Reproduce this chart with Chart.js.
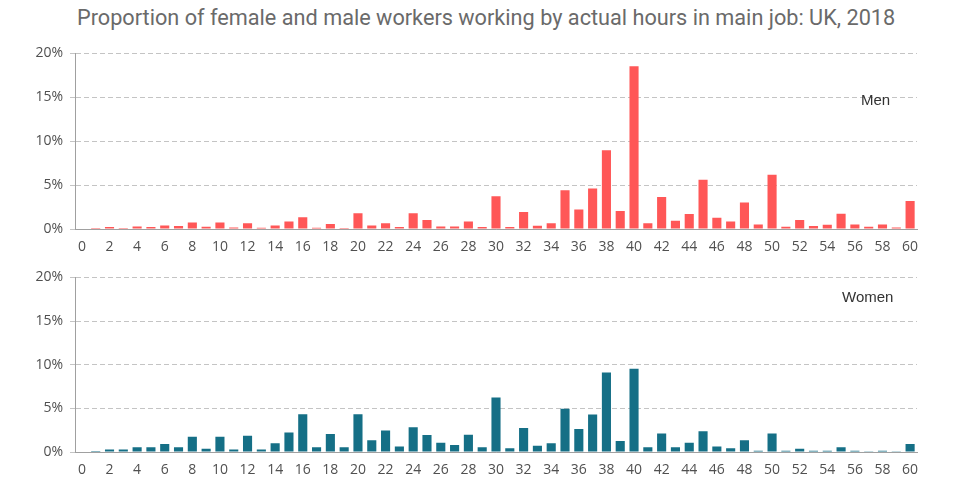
<!DOCTYPE html>
<html>
<head>
<meta charset="utf-8">
<script src="https://cdn.jsdelivr.net/npm/chart.js@4/dist/chart.umd.min.js"></script>
<style>
  html, body { margin: 0; padding: 0; background: #fff; }
  body { width: 959px; height: 484px; position: relative; overflow: hidden; font-family: "Open Sans", sans-serif; }
  #title { position: absolute; left: 77px; top: 5px; font-family: Roboto, sans-serif; font-size: 21.7px; color: #6a6a6a; white-space: nowrap; }
  canvas { position: absolute; left: 0; }
  #men { top: 38px; }
  #women { top: 262px; }
  .tag { position: absolute; font-family: "Liberation Sans", Arial, sans-serif; font-size: 15px; color: #333; }
  #tag-men { left: 861px; top: 91px; }
  #tag-women { left: 842px; top: 288px; }
</style>
</head>
<body>
<div id="title">Proportion of female and male workers working by actual hours in main job: UK, 2018</div>
<canvas id="men" width="959" height="222"></canvas>
<canvas id="women" width="959" height="222"></canvas>
<div class="tag" id="tag-men">Men</div>
<div class="tag" id="tag-women">Women</div>
<script>
"use strict";

const hours = ["0","1","2","3","4","5","6","7","8","9","10","11","12","13","14","15","16","17","18","19","20",
  "21","22","23","24","25","26","27","28","29","30","31","32","33","34","35","36","37","38","39","40",
  "41","42","43","44","45","46","47","48","49","50","51","52","53","54","55","56","57","58","59","60"];

// % of workers at each actual-hours value
const men = [0.05, 0.1, 0.22, 0.11, 0.29, 0.22, 0.4, 0.33, 0.73, 0.26, 0.73, 0.18, 0.66, 0.15, 0.4, 0.84, 1.35, 0.15, 0.58, 0.12, 1.79,
  0.4, 0.66, 0.22, 1.79, 1.02, 0.29, 0.29, 0.84, 0.22, 3.72, 0.22, 1.93, 0.36, 0.66, 4.42, 2.23, 4.6, 8.98, 2.04, 18.54,
  0.66, 3.65, 0.95, 1.72, 5.62, 1.28, 0.84, 3.03, 0.51, 6.17, 0.26, 1.02, 0.33, 0.47, 1.75, 0.51, 0.26, 0.51, 0.18, 3.18];

const women = [0, 0.11, 0.29, 0.29, 0.55, 0.55, 0.92, 0.55, 1.76, 0.37, 1.76, 0.29, 1.87, 0.29, 0.99, 2.24, 4.33, 0.55, 2.07, 0.55, 4.31,
  1.36, 2.46, 0.62, 2.83, 1.94, 1.06, 0.81, 1.98, 0.55, 6.24, 0.44, 2.75, 0.73, 0.99, 4.95, 2.64, 4.29, 9.1, 1.25, 9.54,
  0.55, 2.13, 0.55, 1.06, 2.39, 0.62, 0.44, 1.36, 0.15, 2.13, 0.15, 0.37, 0.15, 0.15, 0.55, 0.15, 0.04, 0.15, 0.04, 0.92];

const yTicks = [0, 5, 10, 15, 20];

const TXT = "#505050";
const tickFont = { family: "'Open Sans', sans-serif", size: 14 };

function makeChart(id, values, color, xAxisH) {
  return new Chart(document.getElementById(id), {
    type: "bar",
    data: {
      labels: hours,
      datasets: [{ data: values, backgroundColor: color, barPercentage: 0.66, categoryPercentage: 1 }]
    },
    options: {
      responsive: false,
      animation: false,
      layout: { padding: { top: 9, right: 42, left: 0, bottom: 0 } },
      plugins: { legend: { display: false }, tooltip: { enabled: false } },
      scales: {
        x: {
          grid: { display: false, drawTicks: false },
          border: { display: true, color: "#a0a0a0", width: 1 },
          ticks: {
            color: TXT, font: tickFont, padding: 10, autoSkip: false, maxRotation: 0,
            callback: (v, i) => i % 2 === 0 ? hours[i] : ""
          },
          afterFit: s => { s.height = xAxisH; }
        },
        y: {
          min: 0, max: 20,
          afterBuildTicks: s => { s.ticks = yTicks.map(v => ({ value: v })); },
          grid: { color: "#c4c4c4", tickLength: 5, lineWidth: 1 },
          border: { display: true, color: "#a0a0a0", dash: [5, 3] },
          ticks: { color: TXT, font: tickFont, padding: 7, callback: v => v + "%" },
          afterFit: s => { s.width = 75; }
        }
      }
    }
  });
}

// grid dash sits on the border config in v4
makeChart("men", men, "#ff5757", 31);
makeChart("women", women, "#156f86", 32);
</script>
</body>
</html>
